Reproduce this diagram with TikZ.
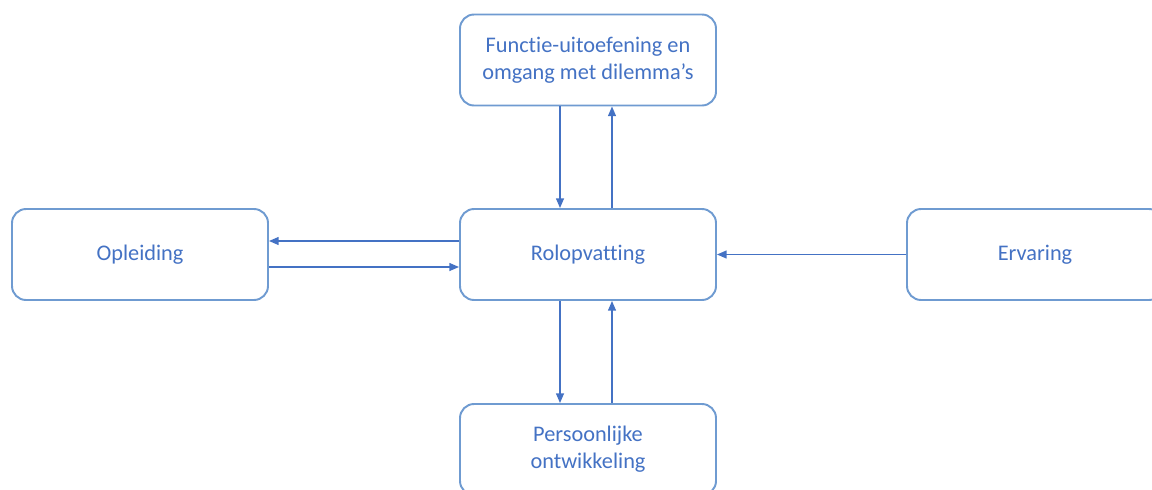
\documentclass[tikz,border=0pt]{standalone}
\usepackage{fontspec}
\setmainfont[Ligatures=NoCommon]{Carlito}
\usepackage{xcolor}
\usetikzlibrary{arrows.meta}
\definecolor{rim}{HTML}{6F9BD1}
\definecolor{flow}{HTML}{4472C4}
\definecolor{txt}{HTML}{4472C4}
\tikzset{
  box/.style={draw=rim, line width=1.1pt, rounded corners=8pt, fill=white,
    minimum width=5.12cm, minimum height=1.82cm, align=center,
    text=txt, font=\fontsize{12.7}{15.2}\selectfont},
  arr/.style={draw=flow, line width=0.8pt, -{Triangle[length=5.5pt,width=4.5pt]}},
}
\begin{document}
\begin{tikzpicture}
  \useasboundingbox (0,0) rectangle (23.04,-9.78);

  \node[box] (rol) at (11.76,-5.09) {Rolopvatting};
  \node[box] (opl) at (2.80,-5.09) {Opleiding};
  \node[box] (erv) at (20.70,-5.09) {Ervaring};
  \node[box] (fun) at (11.76,-1.20) {Functie-uitoefening en\\omgang met dilemma’s};
  \node[box] (per) at (11.76,-8.99) {Persoonlijke\\ontwikkeling};

  \draw[arr] ([yshift=0.27cm]rol.west) -- ([yshift=0.27cm]opl.east);
  \draw[arr] ([yshift=-0.25cm]opl.east) -- ([yshift=-0.25cm]rol.west);
  \draw[arr] (erv.west) -- (rol.east);

  \draw[arr] ([xshift=-0.56cm]fun.south) -- ([xshift=-0.56cm]rol.north);
  \draw[arr] ([xshift=0.48cm]rol.north) -- ([xshift=0.48cm]fun.south);
  \draw[arr] ([xshift=-0.56cm]rol.south) -- ([xshift=-0.56cm]per.north);
  \draw[arr] ([xshift=0.48cm]per.north) -- ([xshift=0.48cm]rol.south);
\end{tikzpicture}
\end{document}
